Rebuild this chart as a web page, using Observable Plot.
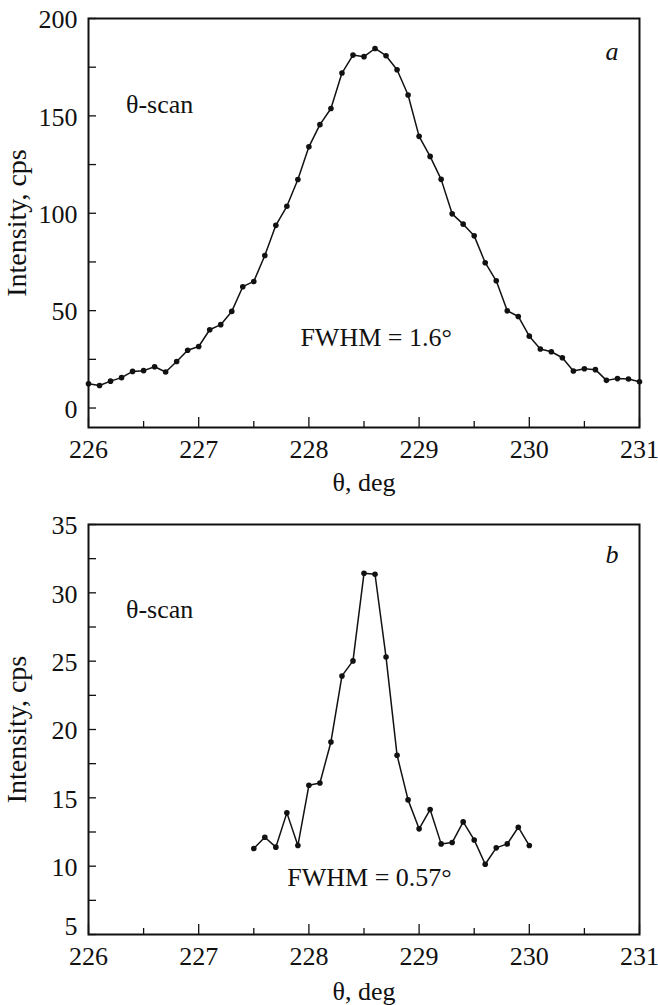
<!DOCTYPE html>
<html>
<head>
<meta charset="utf-8">
<script src="https://cdn.jsdelivr.net/npm/d3@7"></script>
<script src="https://cdn.jsdelivr.net/npm/@observablehq/plot@0.6"></script>
<style>
  html, body { margin: 0; padding: 0; background: #fff; }
  #chart svg { display: block; }
</style>
</head>
<body>
<div id="chart"></div>
<script>
// Panel a: θ-scan, wide peak
const thetaA = [226.0,226.1,226.2,226.3,226.4,226.5,226.6,226.7,226.8,226.9,
  227.0,227.1,227.2,227.3,227.4,227.5,227.6,227.7,227.8,227.9,
  228.0,228.1,228.2,228.3,228.4,228.5,228.6,228.7,228.8,228.9,
  229.0,229.1,229.2,229.3,229.4,229.5,229.6,229.7,229.8,229.9,
  230.0,230.1,230.2,230.3,230.4,230.5,230.6,230.7,230.8,230.9,231.0];
const intensityA = [12.5,11.6,13.8,15.6,18.8,19.2,21.2,18.5,23.9,29.7,
  31.6,40.2,42.8,49.6,62.3,65.0,78.3,93.8,103.6,117.3,
  134.1,145.5,153.8,172.0,181.2,180.4,184.6,180.9,173.7,160.7,
  139.5,129.2,117.4,99.7,94.4,88.4,74.6,65.3,49.9,47.0,
  36.9,30.3,28.9,25.8,19.0,20.2,19.7,14.2,15.1,14.9,13.5];

// Panel b: θ-scan, narrow peak
const thetaB = [227.5,227.6,227.7,227.8,227.9,228.0,228.1,228.2,228.3,228.4,
  228.5,228.6,228.7,228.8,228.9,229.0,229.1,229.2,229.3,229.4,
  229.5,229.6,229.7,229.8,229.9,230.0];
const intensityB = [11.29,12.12,11.39,13.9,11.51,15.92,16.09,19.09,23.92,25.02,
  31.43,31.36,25.3,18.12,14.85,12.73,14.14,11.63,11.73,13.24,
  11.92,10.14,11.34,11.63,12.85,11.51];

// Axis ticks and tick labels
const xTickLabels = [226, 227, 228, 229, 230, 231];
const xMinorTicks = [226.5, 227.5, 228.5, 229.5, 230.5];
const yTicksA = [0, 25, 50, 75, 100, 125, 150, 175, 200];
const yLabelsA = [0, 50, 100, 150, 200];
const yTicksB = [5, 7.5, 10, 12.5, 15, 17.5, 20, 22.5, 25, 27.5, 30, 32.5, 35];
const yLabelsB = [10, 15, 20, 25, 30, 35];
const yLabelsBLow = [5];   // drawn slightly raised, as in the figure

// Annotations (data coordinates)
const notesA = [
  {x: 226.34, y: 156, text: "θ-scan", anchor: "start", italic: false},
  {x: 230.75, y: 183, text: "a", anchor: "middle", italic: true},
  {x: 228.61, y: 36.3, text: "FWHM = 1.6°", anchor: "middle", italic: false}
];
const notesB = [
  {x: 226.34, y: 28.8, text: "θ-scan", anchor: "start", italic: false},
  {x: 230.75, y: 32.8, text: "b", anchor: "middle", italic: true},
  {x: 228.55, y: 9.13, text: "FWHM = 0.57°", anchor: "middle", italic: false}
];

const FONT = "'Liberation Serif', 'Times New Roman', serif";
const FS = 26;

function panel({theta, values, yDomain, yTicks, yLabels, yLabelsLow, notes, height, marginTop, marginBottom, xLabelOffset}) {
  const data = theta.map((t, i) => ({t, v: values[i]}));
  const noteMark = (anchor, italic) => Plot.text(notes.filter(d => d.italic === italic && d.anchor === anchor), {
    x: "x", y: "y", text: "text", textAnchor: anchor, lineAnchor: "middle",
    fontSize: FS, fontStyle: italic ? "italic" : "normal", fill: "#111"
  });
  const marks = [
    Plot.axisY({ticks: yTicks, tickSize: -8, text: null, label: null, strokeWidth: 1.3}),
    Plot.axisY({ticks: yLabels, tickSize: 0, tickPadding: 11, tickFormat: d => String(d), label: null, fontSize: FS, dy: 1.5}),
    Plot.axisY({ticks: [], tickSize: 0, label: "Intensity, cps", labelAnchor: "center", labelArrow: "none",
      labelOffset: 82, fontSize: 28}),
    Plot.axisX({ticks: xTickLabels, tickSize: -10, text: null, label: null, strokeWidth: 1.3}),
    Plot.axisX({ticks: xMinorTicks, tickSize: -6, text: null, label: null, strokeWidth: 1.3}),
    Plot.axisX({ticks: xTickLabels, tickSize: 0, tickPadding: 12, tickFormat: d => String(d),
      label: "θ, deg", labelAnchor: "center", labelOffset: xLabelOffset, labelArrow: "none", fontSize: FS}),
    Plot.line(data, {x: "t", y: "v", stroke: "#111", strokeWidth: 1.5}),
    Plot.dot(data, {x: "t", y: "v", r: 2.8, fill: "#111", stroke: "none"}),
    noteMark("start", false),
    noteMark("middle", false),
    noteMark("middle", true),
    Plot.frame({stroke: "#111", strokeWidth: 2})
  ];
  if (yLabelsLow) {
    marks.push(Plot.axisY({ticks: yLabelsLow, tickSize: 0, tickPadding: 11, tickFormat: d => String(d),
      label: null, fontSize: FS, dy: -8}));
  }
  return Plot.plot({
    width: 658,
    height,
    marginLeft: 88,
    marginRight: 19,
    marginTop,
    marginBottom,
    style: {fontFamily: FONT, fontSize: FS + "px", color: "#111", background: "#fff"},
    x: {domain: [226, 231]},
    y: {domain: yDomain},
    marks
  });
}

const chart = document.getElementById("chart");
chart.append(panel({theta: thetaA, values: intensityA, yDomain: [-10, 200], yTicks: yTicksA, yLabels: yLabelsA,
  notes: notesA, height: 505, marginTop: 18, marginBottom: 78, xLabelOffset: 63}));
chart.append(panel({theta: thetaB, values: intensityB, yDomain: [5, 35], yTicks: yTicksB, yLabels: yLabelsB,
  yLabelsLow: yLabelsBLow, notes: notesB, height: 500, marginTop: 19, marginBottom: 71, xLabelOffset: 65}));
</script>
</body>
</html>
